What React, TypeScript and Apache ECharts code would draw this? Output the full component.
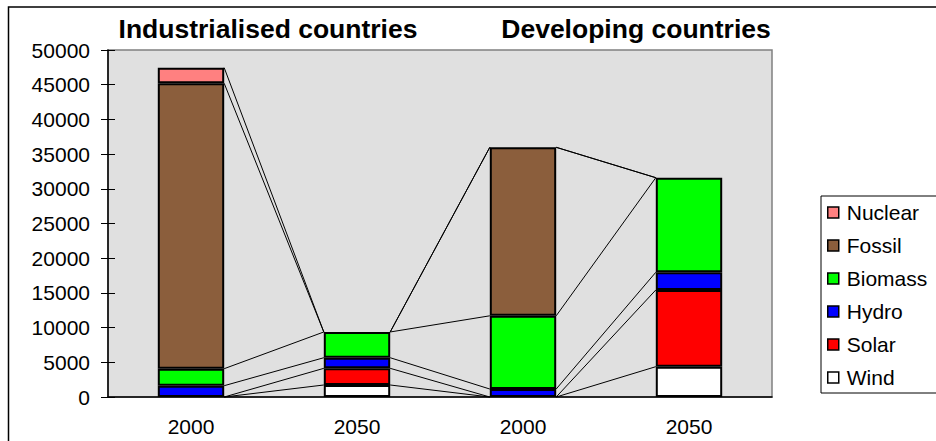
import React, { useEffect, useRef } from "react";
import * as echarts from "echarts";

// Primary energy by source, two country groups, 2000 vs 2050
const categories = ["2000", "2050", "2000", "2050"];
const groupTitles = ["Industrialised countries", "Developing countries"];
const wind = [0, 1730, 0, 4370];
const solar = [0, 2400, 0, 11050];
const hydro = [1630, 1530, 1150, 2550];
const biomass = [2450, 3710, 10550, 13630];
const fossil = [41120, 0, 24280, 0];
const nuclear = [2250, 0, 0, 0];

const FONT = 'Arial, "Liberation Sans", sans-serif';

// bottom-to-top stacking order
const stackDefs = [
  { name: "Wind", data: wind, color: "#FFFFFF" },
  { name: "Solar", data: solar, color: "#FF0000" },
  { name: "Hydro", data: hydro, color: "#0000FF" },
  { name: "Biomass", data: biomass, color: "#00FF00" },
  { name: "Fossil", data: fossil, color: "#8B5E3C" },
  { name: "Nuclear", data: nuclear, color: "#FF8080" },
];

const BAR_FRAC = 0.4;

export default function App() {
  const ref = useRef<HTMLDivElement>(null);

  useEffect(() => {
    if (!ref.current) return;
    const chart = echarts.init(ref.current, null, { renderer: "svg" });

    // cumulative top of each stack level, used for the connecting series lines
    const running = categories.map(() => 0);
    const seriesLineData: number[][] = [];
    stackDefs.forEach((s) => {
      s.data.forEach((v, i) => (running[i] += v));
      for (let c = 0; c < categories.length - 1; c++) {
        seriesLineData.push([c, running[c], running[c + 1]]);
      }
    });

    // empty segments are skipped so they leave no outline
    const barSeries = stackDefs.map((s) => ({
      name: s.name,
      type: "bar",
      stack: "total",
      barWidth: `${BAR_FRAC * 100}%`,
      data: s.data.map((v) => (v === 0 ? "-" : v)),
      z: 3,
      itemStyle: { color: s.color, borderColor: "#000", borderWidth: 2 },
    }));

    const yCommon = {
      type: "value",
      min: 0,
      max: 50000,
      interval: 5000,
      splitLine: { show: false },
    };

    const titleStyle = {
      fontFamily: FONT,
      fontSize: 26.5,
      fontWeight: "bold",
      color: "#000",
      lineHeight: 30,
    };

    chart.setOption({
      animation: false,
      backgroundColor: "#FFFFFF",
      title: [
        { text: groupTitles[0], left: 268, top: 14, padding: 0, textAlign: "center", textStyle: titleStyle },
        { text: groupTitles[1], left: 636, top: 14, padding: 0, textAlign: "center", textStyle: titleStyle },
      ],
      legend: {
        orient: "vertical",
        left: 821,
        top: 196,
        padding: [6, 30, 5, 6],
        itemGap: 12,
        itemWidth: 11,
        itemHeight: 11,
        icon: "rect",
        borderColor: "#000",
        borderWidth: 1,
        data: ["Nuclear", "Fossil", "Biomass", "Hydro", "Solar", "Wind"],
        itemStyle: { borderColor: "#000", borderWidth: 1.5 },
        textStyle: { fontFamily: FONT, fontSize: 21, color: "#000", lineHeight: 21, padding: [0, 0, 0, 3] },
      },
      grid: {
        left: 108,
        right: 164,
        top: 50,
        bottom: 44,
        show: true,
        backgroundColor: "#E0E0E0",
        borderColor: "#808080",
        borderWidth: 1.5,
      },
      xAxis: [
        {
          type: "category",
          data: categories,
          axisLine: { lineStyle: { color: "#000", width: 1.5 } },
          axisTick: { length: 6, lineStyle: { color: "#000" } },
          axisLabel: { fontFamily: FONT, fontSize: 21, color: "#000", margin: 19 },
        },
        {
          type: "category",
          data: categories,
          position: "bottom",
          axisLine: { show: false },
          axisTick: { inside: true, length: 6, lineStyle: { color: "#000" } },
          axisLabel: { show: false },
        },
      ],
      yAxis: [
        {
          ...yCommon,
          axisLine: { show: true, lineStyle: { color: "#000", width: 1.5 } },
          axisTick: { show: true, length: 7, lineStyle: { color: "#000" } },
          axisLabel: {
            fontFamily: FONT,
            fontSize: 21,
            color: "#000",
            margin: 18,
            formatter: (v: number) => String(v),
          },
        },
        {
          ...yCommon,
          position: "left",
          axisLine: { show: false },
          axisTick: { show: true, inside: true, length: 7, lineStyle: { color: "#000" } },
          axisLabel: { show: false },
        },
      ],
      graphic: [
        {
          type: "rect",
          shape: { x: 8.5, y: 7, width: 1000, height: 1000 },
          style: { fill: "none", stroke: "#000", lineWidth: 1.5 },
          silent: true,
        },
      ],
      series: [
        ...barSeries,
        {
          type: "custom",
          name: "series lines",
          z: 2,
          encode: { x: 0, y: [1, 2] },
          data: seriesLineData,
          renderItem: (params: any, api: any) => {
            const c = api.value(0);
            const p1 = api.coord([c, api.value(1)]);
            const p2 = api.coord([c + 1, api.value(2)]);
            const half = (api.size([1, 0])[0] * BAR_FRAC) / 2;
            return {
              type: "line",
              shape: { x1: p1[0] + half, y1: p1[1], x2: p2[0] - half, y2: p2[1] },
              style: { stroke: "#000", lineWidth: 1 },
            };
          },
        },
      ],
    });

    return () => chart.dispose();
  }, []);

  return (
    <div
      ref={ref}
      style={{ position: "fixed", left: 0, top: 0, width: 936, height: 441 }}
    />
  );
}
